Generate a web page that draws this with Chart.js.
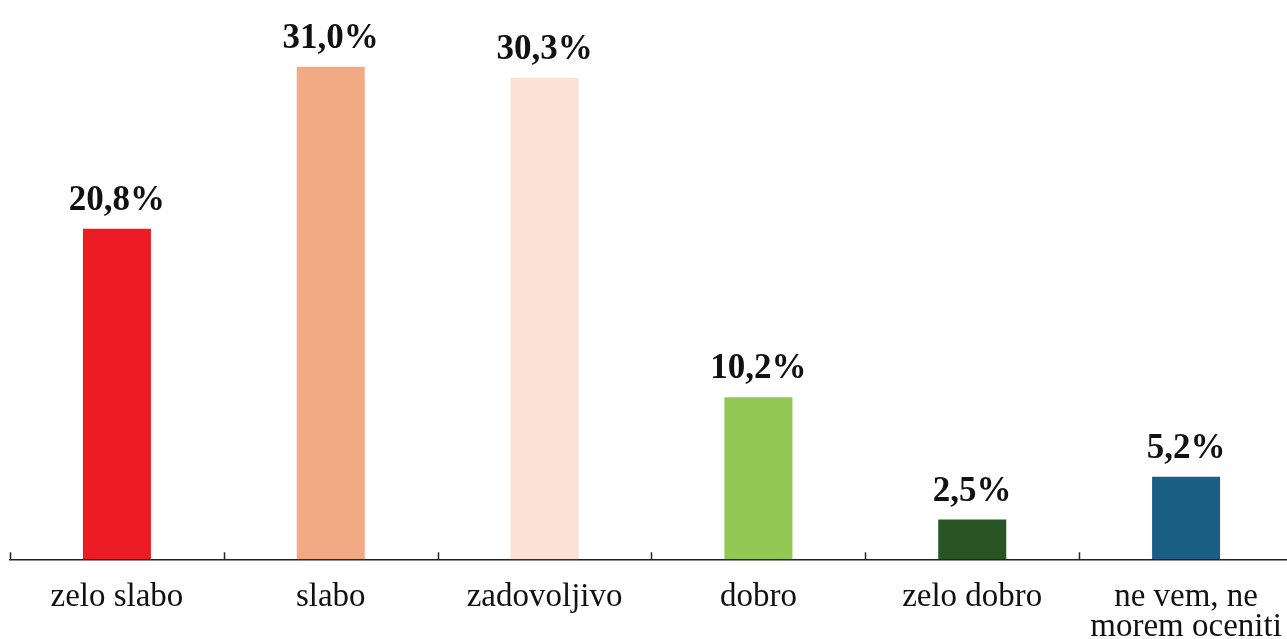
<!DOCTYPE html>
<html>
<head>
<meta charset="utf-8">
<script src="https://cdn.jsdelivr.net/npm/chart.js@4"></script>
<style>
  html, body { margin: 0; padding: 0; background: #fff; overflow: hidden; }
  #wrap { width: 1305px; height: 639px; position: relative; overflow: hidden; }
</style>
</head>
<body>
<div id="wrap"><canvas id="c" width="1305" height="666"></canvas></div>
<script>
const categories = ["zelo slabo", "slabo", "zadovoljivo", "dobro", "zelo dobro", ["ne vem, ne", "morem oceniti"]];
const values = [20.8, 31.0, 30.3, 10.2, 2.5, 5.2];
const valueLabels = ["20,8%", "31,0%", "30,3%", "10,2%", "2,5%", "5,2%"];
const barColors = ["#ED1C24", "#F2AA84", "#FCE1D6", "#92C853", "#285523", "#1B5E84"];

const valueLabelPlugin = {
  id: 'valueLabels',
  afterDatasetsDraw(chart) {
    const ctx = chart.ctx;
    const meta = chart.getDatasetMeta(0);
    ctx.save();
    ctx.font = 'bold 35px "Liberation Serif", serif';
    ctx.fillStyle = '#111';
    ctx.textAlign = 'center';
    ctx.textBaseline = 'alphabetic';
    meta.data.forEach((bar, i) => {
      ctx.fillText(valueLabels[i], bar.x, bar.y - 19);
    });
    const xs = chart.scales.x;
    const n = categories.length;
    const step = (xs.right - xs.left) / n;
    ctx.strokeStyle = '#222';
    ctx.lineWidth = 1.5;
    for (let i = 0; i <= n; i++) {
      const x = Math.round(xs.left + i * step) + 0.5;
      ctx.beginPath();
      ctx.moveTo(x, xs.top);
      ctx.lineTo(x, xs.top - 7);
      ctx.stroke();
    }
    ctx.restore();
  }
};

new Chart(document.getElementById('c'), {
  type: 'bar',
  data: {
    labels: categories,
    datasets: [{
      data: values,
      backgroundColor: barColors,
      borderWidth: 0,
      barPercentage: 0.318,
      categoryPercentage: 1.0
    }]
  },
  options: {
    responsive: false,
    animation: false,
    layout: { padding: { left: 10, right: 2, top: 0, bottom: 0 } },
    plugins: { legend: { display: false }, tooltip: { enabled: false } },
    scales: {
      x: {
        offset: true,
        grid: { display: false, drawTicks: false },
        border: { display: true, color: '#222', width: 1.5 },
        ticks: {
          autoSkip: false,
          maxRotation: 0,
          minRotation: 0,
          padding: 23,
          color: '#111',
          font: { family: '"Liberation Serif", serif', size: 33, lineHeight: 0.92 }
        }
      },
      y: {
        display: false,
        min: 0,
        max: 35.2
      }
    }
  },
  plugins: [valueLabelPlugin]
});
</script>
</body>
</html>
